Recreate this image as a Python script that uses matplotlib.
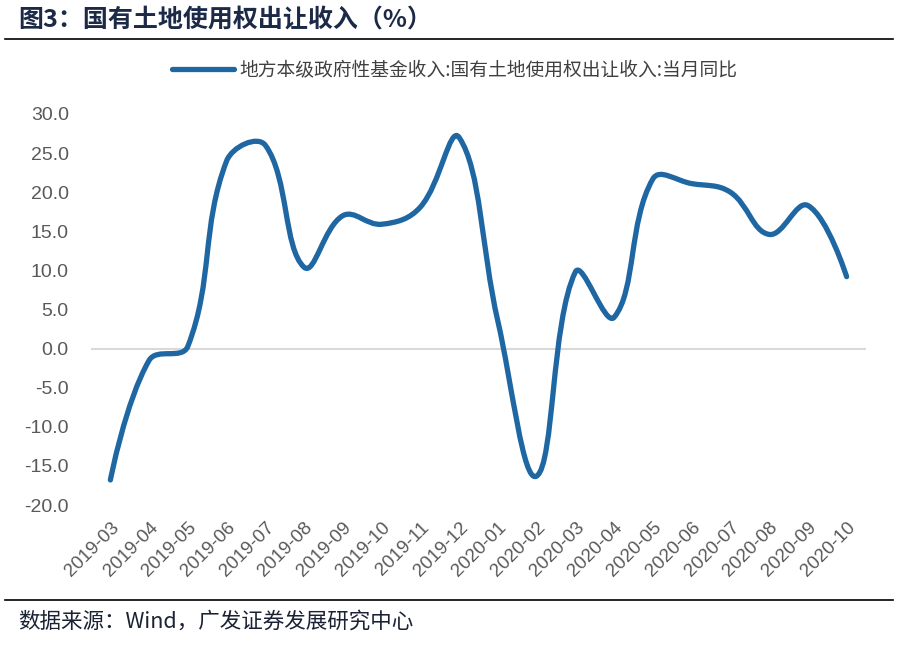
import numpy as np
import matplotlib.pyplot as plt
from matplotlib.path import Path
from matplotlib.patches import PathPatch
from matplotlib.lines import Line2D

plt.rcParams['font.family'] = ['Liberation Sans', 'Noto Sans CJK SC', 'DejaVu Sans']

# --- data ---
months = ['2019-03', '2019-04', '2019-05', '2019-06', '2019-07', '2019-08',
          '2019-09', '2019-10', '2019-11', '2019-12', '2020-01', '2020-02',
          '2020-03', '2020-04', '2020-05', '2020-06', '2020-07', '2020-08',
          '2020-09', '2020-10']
yoy = [-16.8, -1.5, 0.3, 24.0, 26.0, 10.4, 17.0, 15.9, 18.1, 27.0,
       3.5, -16.3, 9.8, 4.0, 21.7, 21.1, 20.0, 14.6, 18.3, 9.2]
y_ticks = [-20, -15, -10, -5, 0, 5, 10, 15, 20, 25, 30]

series_name = '地方本级政府性基金收入:国有土地使用权出让收入:当月同比'
title = '图3：国有土地使用权出让收入（%）'
source = '数据来源：Wind，广发证券发展研究中心'

LINE_COLOR = '#1f67a3'
TEXT_GRAY = '#595959'


def smooth_path(xs, ys, sx, sy, t=0.4):
    # smoothed line like office charts: bezier handles split by the
    # neighbouring segment lengths, measured in screen px (sx, sy px/unit)
    pts = np.column_stack([xs, ys]).astype(float)
    scr = pts * [sx, sy]
    n = len(pts)
    before = [scr[0]] * n
    after = [scr[-1]] * n
    for i in range(1, n - 1):
        p0, p1, p2 = scr[i - 1], scr[i], scr[i + 1]
        d01 = np.hypot(*(p1 - p0))
        d12 = np.hypot(*(p2 - p1))
        fa = t * d01 / (d01 + d12)
        fb = t * d12 / (d01 + d12)
        before[i] = p1 - fa * (p2 - p0)
        after[i] = p1 + fb * (p2 - p0)
    # end segments: handle sits on the end point itself
    after[0] = scr[0]
    before[-1] = scr[-1]
    verts = [pts[0]]
    codes = [Path.MOVETO]
    for i in range(n - 1):
        verts += [after[i] / [sx, sy], before[i + 1] / [sx, sy], pts[i + 1]]
        codes += [Path.CURVE4] * 3
    return Path(verts, codes)


fig = plt.figure(figsize=(8.98, 6.47), dpi=100)
ax = fig.add_axes([91 / 898, 1 - 505 / 647, (866 - 91) / 898, (505 - 114) / 647])

x = np.arange(len(months))
ax.axhline(0, color='#d9d9d9', lw=1.5, zorder=1)
px_per_x = (866 - 91) / len(months)
px_per_y = (505 - 114) / 50
patch = PathPatch(smooth_path(x, yoy, px_per_x, px_per_y), facecolor='none',
                  edgecolor=LINE_COLOR, lw=3.8, capstyle='round',
                  joinstyle='round', zorder=3)
ax.add_patch(patch)

ax.set_xlim(-0.5, len(months) - 0.5)
ax.set_ylim(-20, 30)
ax.set_yticks(y_ticks)
ax.set_yticklabels([f'{v:.1f}' for v in y_ticks], fontsize=14, color=TEXT_GRAY)
ax.set_xticks(x)
ax.set_xticklabels(months, rotation=45, ha='right', rotation_mode='anchor',
                   fontsize=13.5, color=TEXT_GRAY)
ax.tick_params(axis='y', length=0, pad=16)
ax.tick_params(axis='x', length=0, pad=10)
for s in ax.spines.values():
    s.set_visible(False)

# legend
handle = Line2D([], [], color=LINE_COLOR, lw=3.8, solid_capstyle='round')
leg = fig.legend([handle], [series_name], loc='center', bbox_to_anchor=(0.506, 1 - 70 / 647),
                 frameon=False, handlelength=3.3, handletextpad=0.3,
                 prop={'family': ['Noto Sans CJK SC'], 'size': 13.5})
for t in leg.get_texts():
    t.set_color('#404040')

# title, rules, source
fig.text(18 / 898, 1 - 21 / 647, title, fontsize=18, fontweight='bold',
         color='#1c2a48', va='center', ha='left', family=['Noto Sans CJK SC'])
fig.add_artist(Line2D([5 / 898, 893 / 898], [1 - 39 / 647] * 2, color='black', lw=1.2))
fig.add_artist(Line2D([5 / 898, 893 / 898], [1 - 600 / 647] * 2, color='black', lw=1.2))
fig.text(18 / 898, 1 - 622 / 647, source, fontsize=15.5, color='#1a2233',
         va='center', ha='left', family=['Noto Sans CJK SC'])

fig.savefig('out.png', dpi=100, facecolor='white')
